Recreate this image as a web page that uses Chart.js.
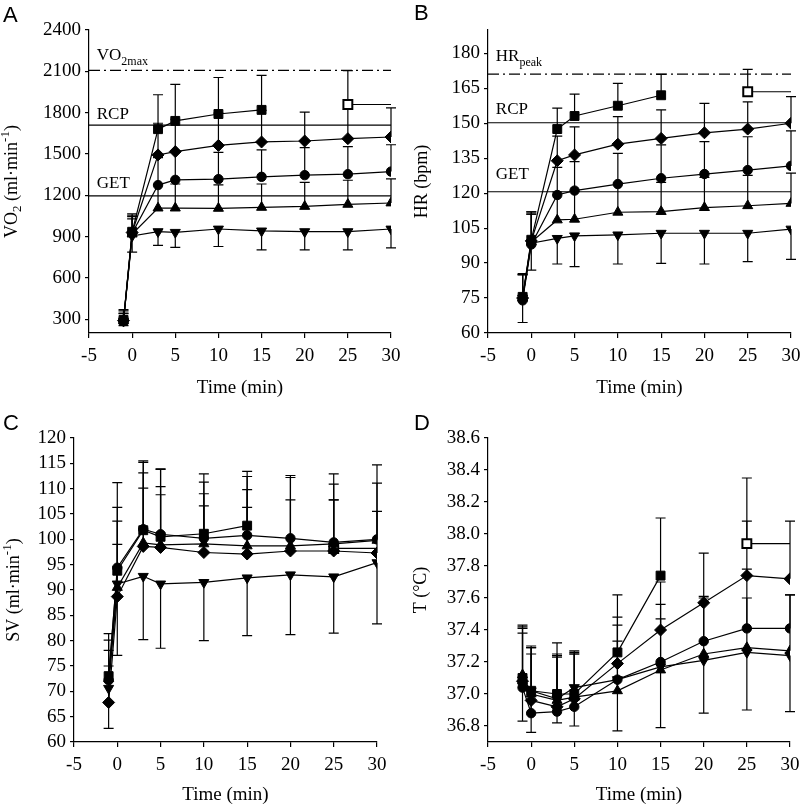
<!DOCTYPE html>
<html>
<head>
<meta charset="utf-8">
<script src="https://cdn.jsdelivr.net/npm/chart.js@4.4.1/dist/chart.umd.min.js"></script>
<style>
  body { margin: 0; background: #fff; }
  #wrap { position: relative; width: 800px; height: 807px; }
  canvas { position: absolute; }
  .lbl { position: absolute; font-family: 'Liberation Sans', Arial, sans-serif; font-size: 22px; line-height: 1; color: #000; }
</style>
</head>
<body>
<div id="wrap">
  <canvas id="cA" width="400" height="400" style="left:0;top:0"></canvas>
  <canvas id="cB" width="400" height="400" style="left:400px;top:0"></canvas>
  <canvas id="cC" width="400" height="407" style="left:0;top:400px"></canvas>
  <canvas id="cD" width="400" height="407" style="left:400px;top:400px"></canvas>
  <div class="lbl" style="left:3px;top:4px">A</div>
  <div class="lbl" style="left:414px;top:2px">B</div>
  <div class="lbl" style="left:3px;top:412px">C</div>
  <div class="lbl" style="left:414px;top:412px">D</div>
</div>
<script>
// ---------- data ----------
const times = [-1, 0, 3, 5, 10, 15, 20, 25, 30];
const timesSq = [-1, 0, 3, 5, 10, 15];
const openTime = 25;
const xTicks = [-5, 0, 5, 10, 15, 20, 25, 30];

// A - VO2 (ml/min)
const vo2Sq = [295, 935, 1680, 1740, 1790, 1820];
const vo2SqSd = [75, 130, 250, 265, 265, 250];
const vo2Dia = [290, 930, 1493, 1517, 1562, 1587, 1594, 1611, 1623];
const vo2DiaSd = [70, 125, 230, 235, 235, 230, 210, 212, 212];
const vo2Cir = [285, 925, 1274, 1312, 1317, 1334, 1346, 1353, 1372];
const vo2CirSd = [60, 120, 200, 200, 195, 195, 200, 200, 195];
const vo2Tri = [290, 918, 1107, 1107, 1105, 1112, 1119, 1134, 1144];
const vo2TriSd = [50, 110, 170, 175, 170, 170, 175, 175, 175];
const vo2Inv = [288, 905, 936, 931, 955, 941, 936, 936, 955];
const vo2InvSd = [35, 118, 100, 110, 127, 137, 132, 132, 137];
const vo2Open = 1859, vo2OpenSd = 246;
const vo2Max = 2107, vo2Rcp = 1710, vo2Get = 1196;
const vo2Ticks = [300, 600, 900, 1200, 1500, 1800, 2100, 2400];

// B - HR (bpm)
const hrSq = [75.5, 100, 147.5, 153.1, 157.5, 162.0];
const hrSqSd = [10, 12, 9, 9.4, 9.6, 9];
const hrDia = [75, 99.5, 133.9, 136.4, 141.0, 143.5, 145.9, 147.5, 150.0];
const hrDiaSd = [10, 12.5, 10.6, 12, 11.8, 12.2, 12.6, 11.7, 11.4];
const hrCir = [74, 98, 119.2, 121.1, 123.9, 126.4, 128.2, 129.9, 131.7];
const hrCirSd = [11, 13, 11.9, 12.4, 13.2, 14.3, 13.9, 14.3, 15];
const hrTri = [75, 99, 108.5, 108.8, 111.8, 112.1, 113.8, 114.6, 115.6];
const hrTriSd = [10, 12, 12, 12, 12.5, 12.5, 13, 13, 13];
const hrInv = [75, 98.5, 100.6, 101.7, 102.1, 102.8, 102.8, 102.8, 104.6];
const hrInvSd = [10.5, 11.5, 11, 13.2, 12.5, 12.9, 13.2, 12.2, 13];
const hrOpen = 163.5, hrOpenSd = 9.6;
const hrPeak = 171.1, hrRcp = 150.2, hrGet = 120.6;
const hrTicks = [60, 75, 90, 105, 120, 135, 150, 165, 180];

// C - SV (ml/beat)
const svSq = [73.0, 93.8, 101.8, 100.5, 101.1, 102.7];
const svSqSd = [8.4, 12.5, 13.4, 13.3, 11.8, 10.7];
const svDia = [67.8, 88.7, 98.6, 98.4, 97.4, 97.1, 97.7, 97.7, 97.3];
const svDiaSd = [7.2, 10.3, 11.5, 10.4, 9.2, 9.2, 10.1, 10.1, 8.2];
const svCir = [72.2, 94.4, 102.0, 101.0, 100.2, 100.8, 100.2, 99.4, 100.0];
const svCirSd = [7.9, 16.8, 13.5, 12.9, 11.1, 11.6, 12.4, 13.5, 14.7];
const svTri = [72.5, 90.5, 99.3, 98.9, 99.1, 98.7, 98.7, 99.1, 99.8];
const svTriSd = [5.6, 13.1, 13.8, 11.5, 9.9, 11.1, 13.5, 11.8, 11.3];
const svInv = [70.6, 91.2, 92.7, 91.2, 91.5, 92.4, 93.0, 92.6, 95.4];
const svInvSd = [7.9, 14.1, 12.5, 12.7, 11.5, 11.4, 11.8, 11.1, 12.1];
const svOpen = 98.2, svOpenSd = 9.6;
const svTicks = [60, 65, 70, 75, 80, 85, 90, 95, 100, 105, 110, 115, 120];

// D - T (deg C)
const tSq = [37.10, 37.02, 37.00, 37.00, 37.26, 37.74];
const tSqSd = [0.33, 0.28, 0.32, 0.27, 0.36, 0.36];
const tDia = [37.08, 36.96, 36.92, 36.97, 37.19, 37.40, 37.57, 37.74, 37.72];
const tDiaSd = [0.33, 0.33, 0.33, 0.29, 0.29, 0.30, 0.31, 0.34, 0.36];
const tCir = [37.04, 36.88, 36.89, 36.92, 37.09, 37.20, 37.33, 37.41, 37.41];
const tCirSd = [0.34, 0.37, 0.34, 0.33, 0.34, 0.36, 0.28, 0.37, 0.21];
const tTri = [37.12, 37.00, 36.96, 36.98, 37.02, 37.15, 37.25, 37.29, 37.27];
const tTriSd = [0.30, 0.29, 0.28, 0.27, 0.31, 0.32, 0.35, 0.31, 0.35];
const tInv = [37.05, 37.02, 36.97, 37.04, 37.09, 37.17, 37.21, 37.26, 37.24];
const tInvSd = [0.22, 0.26, 0.15, 0.24, 0.32, 0.38, 0.33, 0.36, 0.35];
const tOpen = 37.94, tOpenSd = 0.41;
const tTicks = [36.8, 37.0, 37.2, 37.4, 37.6, 37.8, 38.0, 38.2, 38.4, 38.6];

// ---------- helpers ----------
Chart.defaults.font.family = '"Liberation Serif", "Times New Roman", serif';
Chart.defaults.color = '#000';

function pts(xs, ys) {
    return ys.map((v, i) => ({ x: xs[i], y: v }));
}

// vertical error bars (one side), drawn under the markers
const errorBars = {
    id: 'errorBars',
    beforeDatasetsDraw(chart) {
        const ctx = chart.ctx, ys = chart.scales.y;
        ctx.save();
        ctx.strokeStyle = '#000';
        ctx.lineWidth = 1.2;
        chart.data.datasets.forEach((ds, i) => {
            if (!ds.err) return;
            const meta = chart.getDatasetMeta(i);
            meta.data.forEach((pt, j) => {
                const e = ds.err[j];
                if (e == null) return;
                const v = ds.data[j].y;
                const y2 = ys.getPixelForValue(ds.errDir === 'down' ? v - e : v + e);
                ctx.beginPath();
                ctx.moveTo(pt.x, pt.y);
                ctx.lineTo(pt.x, y2);
                ctx.moveTo(pt.x - 5, y2);
                ctx.lineTo(pt.x + 5, y2);
                ctx.stroke();
            });
        });
        ctx.restore();
    }
};

function richWidth(ctx, parts, size) {
    let w = 0;
    parts.forEach(p => {
        const s = (p.sub || p.sup) ? Math.round(size * 0.7) : size;
        ctx.font = s + 'px "Liberation Serif"';
        w += ctx.measureText(p.t).width;
    });
    return w;
}

function drawRich(ctx, parts, x, y, size) {
    let cx = x;
    parts.forEach(p => {
        const s = (p.sub || p.sup) ? Math.round(size * 0.7) : size;
        ctx.font = s + 'px "Liberation Serif"';
        const dy = p.sub ? size * 0.3 : (p.sup ? -size * 0.38 : 0);
        ctx.fillText(p.t, cx, y + dy);
        cx += ctx.measureText(p.t).width;
    });
}

// in-plot labels + rotated y title (need sub/superscripts)
const richText = {
    id: 'richText',
    afterDraw(chart, args, opts) {
        const ctx = chart.ctx, xs = chart.scales.x, ys = chart.scales.y;
        ctx.save();
        ctx.fillStyle = '#000';
        ctx.textAlign = 'left';
        ctx.textBaseline = 'alphabetic';
        (opts.labels || []).forEach(l => {
            drawRich(ctx, l.parts, xs.getPixelForValue(l.x), ys.getPixelForValue(l.y), 17);
        });
        if (opts.title) {
            const w = richWidth(ctx, opts.title, 18);
            const cy = (chart.chartArea.top + chart.chartArea.bottom) / 2;
            ctx.translate(opts.titleX, cy);
            ctx.rotate(-Math.PI / 2);
            ctx.textBaseline = 'middle';
            drawRich(ctx, opts.title, -w / 2, 0, 18);
        }
        ctx.restore();
    }
};

const radius = { rect: 6.3, rectRot: 6, circle: 4.7, triangle: 5.8 };

function series(xs, vals, sd, dir, style, rot) {
    return {
        data: pts(xs, vals),
        err: sd,
        errDir: dir,
        borderColor: '#000',
        borderWidth: 1.2,
        pointStyle: style,
        pointRotation: rot || 0,
        pointRadius: radius[style],
        pointBackgroundColor: '#000',
        pointBorderColor: '#000',
        pointBorderWidth: 1,
        tension: 0
    };
}

function openSquare(v, sd) {
    return {
        data: [{ x: openTime, y: v }, { x: 30, y: v }],
        err: [sd, null],
        errDir: 'up',
        borderColor: '#000',
        borderWidth: 1.2,
        pointStyle: 'rect',
        pointRadius: [6.3, 0],
        pointBackgroundColor: '#fff',
        pointBorderColor: '#000',
        pointBorderWidth: 2
    };
}

function hline(y, dash) {
    return {
        data: [{ x: -5, y: y }, { x: 30, y: y }],
        borderColor: '#000',
        borderWidth: 1.2,
        borderDash: dash || [],
        pointRadius: 0
    };
}

function makePanel(id, p) {
    const cv = document.getElementById(id);
    return new Chart(cv, {
        type: 'line',
        data: { datasets: p.datasets },
        plugins: [errorBars, richText],
        options: {
            responsive: false,
            animation: false,
            layout: { padding: { left: 0, right: p.right, top: p.top, bottom: 0 } },
            plugins: {
                legend: { display: false },
                tooltip: { enabled: false },
                richText: { title: p.title, titleX: p.titleX, labels: p.labels }
            },
            scales: {
                x: {
                    type: 'linear', min: -5, max: 30,
                    afterBuildTicks: a => { a.ticks = xTicks.map(v => ({ value: v })); },
                    afterFit: s => { s.height = p.xH; s.paddingLeft = 0; s.paddingRight = 0; },
                    ticks: { padding: 7, maxRotation: 0, autoSkip: false, font: { size: 19 } },
                    grid: { drawOnChartArea: false, color: '#000', lineWidth: 1.2, tickLength: 5 },
                    border: { color: '#000', width: 1.2 },
                    title: { display: true, text: 'Time (min)', font: { size: 19 }, padding: { top: 4, bottom: 1 } }
                },
                y: {
                    type: 'linear', min: p.yMin, max: p.yMax,
                    afterBuildTicks: a => { a.ticks = p.yTicks.map(v => ({ value: v })); },
                    afterFit: s => { s.width = p.left; s.paddingTop = 0; s.paddingBottom = 0; },
                    ticks: {
                        padding: 4, autoSkip: false, font: { size: 19 },
                        callback: v => p.dec ? v.toFixed(p.dec) : v
                    },
                    grid: { drawOnChartArea: false, color: '#000', lineWidth: 1.2, tickLength: 4 },
                    border: { color: '#000', width: 1.2 }
                }
            }
        }
    });
}

// ---------- panels ----------
const dashDot = [11, 4, 2, 4];

makePanel('cA', {
    left: 89, right: 9, top: 30, xH: 67,
    yMin: 200, yMax: 2400, yTicks: vo2Ticks,
    title: [{ t: 'VO' }, { t: '2', sub: true }, { t: ' (ml\u00b7min' }, { t: '-1', sup: true }, { t: ')' }],
    titleX: 12,
    labels: [
        { x: -4.1, y: 2184, parts: [{ t: 'VO' }, { t: '2max', sub: true }] },
        { x: -4.1, y: 1751, parts: [{ t: 'RCP' }] },
        { x: -4.1, y: 1252, parts: [{ t: 'GET' }] }
    ],
    datasets: [
        hline(vo2Max, dashDot), hline(vo2Rcp), hline(vo2Get),
        series(timesSq, vo2Sq, vo2SqSd, 'up', 'rect'),
        series(times, vo2Dia, vo2DiaSd, 'up', 'rectRot'),
        series(times, vo2Cir, vo2CirSd, 'up', 'circle'),
        series(times, vo2Tri, vo2TriSd, 'up', 'triangle'),
        series(times, vo2Inv, vo2InvSd, 'down', 'triangle', 180),
        openSquare(vo2Open, vo2OpenSd)
    ]
});

makePanel('cB', {
    left: 88, right: 9, top: 30, xH: 67,
    yMin: 60, yMax: 190, yTicks: hrTicks,
    title: [{ t: 'HR (bpm)' }],
    titleX: 22,
    labels: [
        { x: -4.1, y: 176.7, parts: [{ t: 'HR' }, { t: 'peak', sub: true }] },
        { x: -4.1, y: 153.8, parts: [{ t: 'RCP' }] },
        { x: -4.1, y: 126.1, parts: [{ t: 'GET' }] }
    ],
    datasets: [
        hline(hrPeak, dashDot), hline(hrRcp), hline(hrGet),
        series(timesSq, hrSq, hrSqSd, 'up', 'rect'),
        series(times, hrDia, hrDiaSd, 'up', 'rectRot'),
        series(times, hrCir, hrCirSd, 'up', 'circle'),
        series(times, hrTri, hrTriSd, 'up', 'triangle'),
        series(times, hrInv, hrInvSd, 'down', 'triangle', 180),
        openSquare(hrOpen, hrOpenSd)
    ]
});

makePanel('cC', {
    left: 74, right: 23, top: 38, xH: 65,
    yMin: 60, yMax: 120, yTicks: svTicks,
    title: [{ t: 'SV (ml\u00b7min' }, { t: '-1', sup: true }, { t: ')' }],
    titleX: 14,
    labels: [],
    datasets: [
        series(timesSq, svSq, svSqSd, 'up', 'rect'),
        series(times, svDia, svDiaSd, 'up', 'rectRot'),
        series(times, svCir, svCirSd, 'up', 'circle'),
        series(times, svTri, svTriSd, 'up', 'triangle'),
        series(times, svInv, svInvSd, 'down', 'triangle', 180),
        openSquare(svOpen, svOpenSd)
    ]
});

makePanel('cD', {
    left: 88, right: 10, top: 38, xH: 65,
    yMin: 36.7, yMax: 38.6, yTicks: tTicks, dec: 1,
    title: [{ t: 'T (\u00b0C)' }],
    titleX: 21,
    labels: [],
    datasets: [
        series(timesSq, tSq, tSqSd, 'up', 'rect'),
        series(times, tDia, tDiaSd, 'up', 'rectRot'),
        series(times, tCir, tCirSd, 'up', 'circle'),
        series(times, tTri, tTriSd, 'up', 'triangle'),
        series(times, tInv, tInvSd, 'down', 'triangle', 180),
        openSquare(tOpen, tOpenSd)
    ]
});
</script>
</body>
</html>
